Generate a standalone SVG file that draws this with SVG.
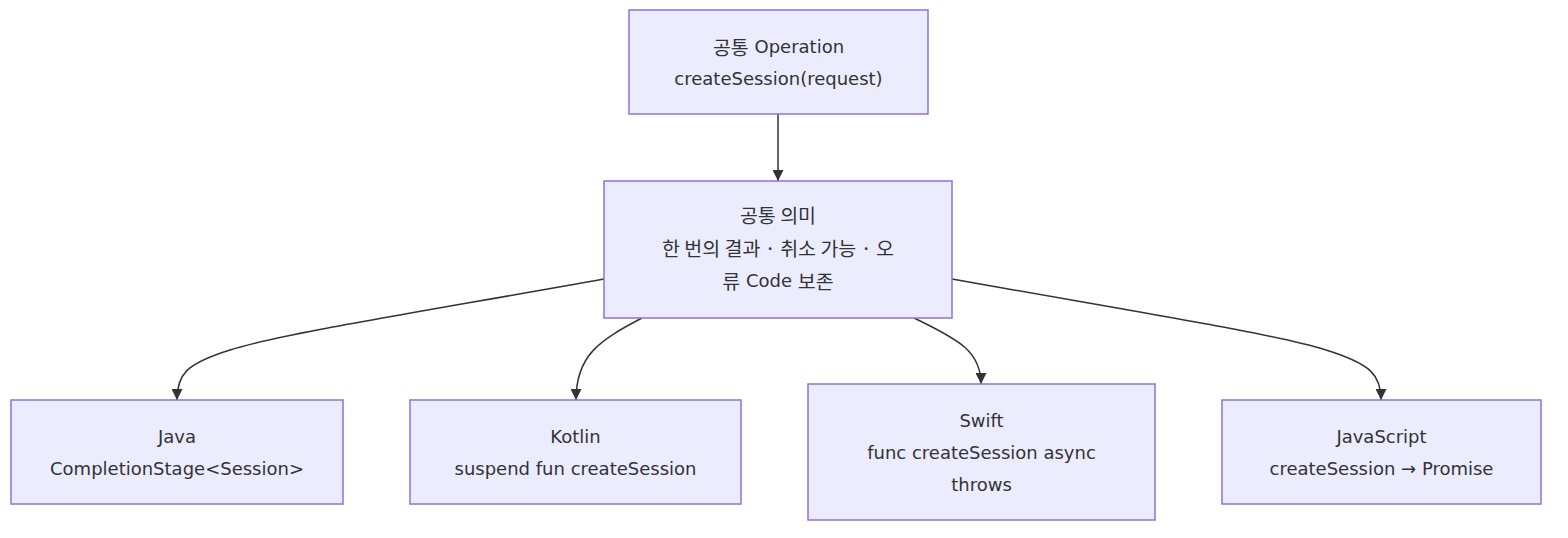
<svg xmlns="http://www.w3.org/2000/svg" width="1568" height="538" viewBox="0 0 1568 538">
<style>
.node rect{fill:#ECECFF;stroke:#9370DB;stroke-width:1.5}
.node text{font-family:"DejaVu Sans","Noto Sans CJK KR",sans-serif;font-size:18px;fill:#333;text-anchor:middle;dominant-baseline:central}
.node .ko{font-family:"Noto Sans CJK KR",sans-serif;font-size:19.5px}
.edges path{fill:none;stroke:#333;stroke-width:1.5}
</style>
<defs>
<marker id="arr" viewBox="0 0 10 10" refX="10" refY="5" markerWidth="11" markerHeight="11" markerUnits="userSpaceOnUse" orient="auto">
<path d="M0,0 L10,5 L0,10 z" fill="#333"/>
</marker>
</defs>
<rect width="1568" height="538" fill="#fff"/>
<g class="edges">
<path d="M778,114 L778,181" marker-end="url(#arr)"/>
<path d="M604,279 C420,312 280,334 230,350 C185,364 177,375 177,400" marker-end="url(#arr)"/>
<path d="M642,318 C600,340 576,355 576,400" marker-end="url(#arr)"/>
<path d="M914,318 C960,340 981,352 981,384" marker-end="url(#arr)"/>
<path d="M952,279 C1136,312 1276,334 1326,350 C1371,364 1381,375 1381,400" marker-end="url(#arr)"/>
</g>
<g id="op" class="node"><rect x="629" y="10" width="299" height="104"/><text x="778.5" y="46"><tspan class="ko">공통</tspan> Operation</text><text x="778.5" y="78">createSession(request)</text></g>
<g id="sem" class="node"><rect x="604" y="181" width="348" height="137"/><text x="778" y="214" class="ko">공통 의미</text><text x="778" y="247" class="ko">한 번의 결과 · 취소 가능 · 오</text><text x="778" y="280"><tspan class="ko">류</tspan> Code <tspan class="ko">보존</tspan></text></g>
<g id="java" class="node"><rect x="11" y="400" width="332" height="104"/><text x="177" y="436">Java</text><text x="177" y="468">CompletionStage&lt;Session&gt;</text></g>
<g id="kotlin" class="node"><rect x="410" y="400" width="331" height="104"/><text x="575.5" y="436">Kotlin</text><text x="575.5" y="468">suspend fun createSession</text></g>
<g id="swift" class="node"><rect x="808" y="384" width="347" height="136"/><text x="981.5" y="420">Swift</text><text x="981.5" y="452">func createSession async</text><text x="981.5" y="484">throws</text></g>
<g id="js" class="node"><rect x="1222" y="400" width="319" height="104"/><text x="1381.5" y="436">JavaScript</text><text x="1381.5" y="468">createSession → Promise</text></g>
</svg>
